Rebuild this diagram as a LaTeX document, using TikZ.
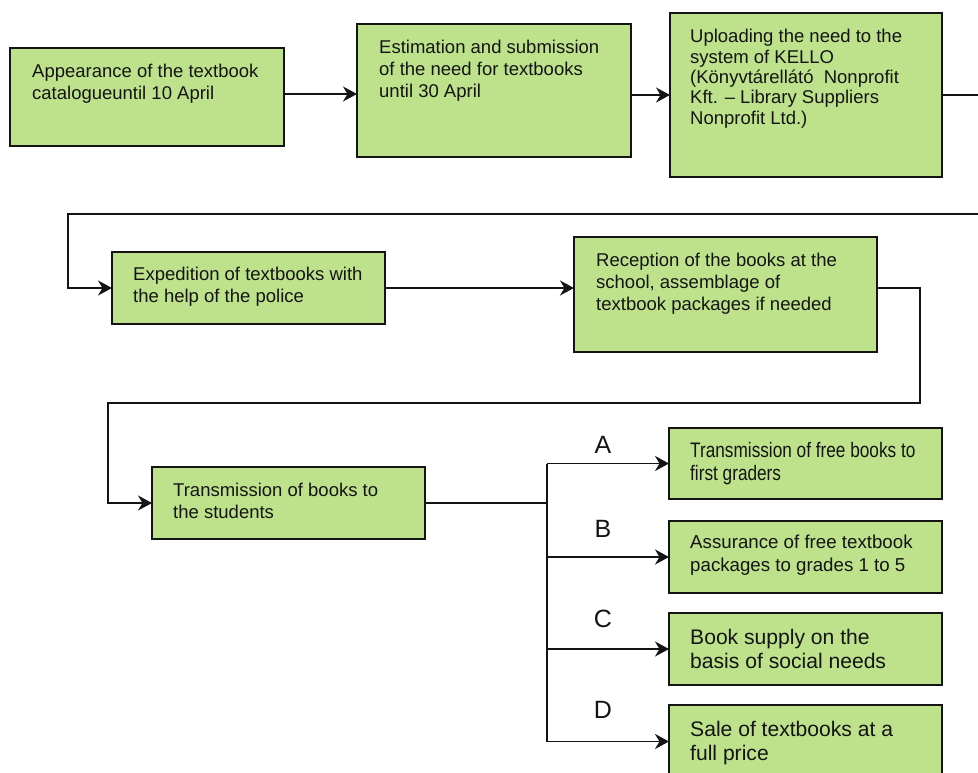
\documentclass[tikz,border=0pt]{standalone}
\usepackage{fontspec}
\setmainfont{Liberation Sans}
\newfontfamily\narrowfont[FakeStretch=0.82]{Liberation Sans}
\usetikzlibrary{arrows.meta,calc}

\definecolor{boxfill}{RGB}{190,226,140}
\definecolor{ink}{RGB}{20,20,20}

\newcommand\stagefont{\fontsize{18.5}{21.7}\selectfont}
\newcommand\tightfont{\fontsize{18.5}{20.4}\selectfont}
\newcommand\branchfont{\fontsize{18.7}{22.3}\selectfont}
\newcommand\largefont{\fontsize{21.1}{24}\selectfont}
\newcommand\condfont{\narrowfont\fontsize{21}{23.3}\selectfont}

\begin{document}
\begin{tikzpicture}[x=1pt,y=-1pt,
  stagebox/.style={draw=ink, line width=2pt, fill=boxfill, inner sep=0pt, outer sep=0pt, anchor=north west},
  caption/.style={anchor=north west, inner sep=0pt, align=left, text=ink},
  conn/.style={draw=ink, line width=1.8pt},
  flow/.style={conn, -{Stealth[length=14pt,width=15pt,inset=4.5pt]}},
  tag/.style={anchor=base, inner sep=0pt, text=ink, font=\fontsize{25}{30}\selectfont}
]
\useasboundingbox (0,0) rectangle (978,773);
\clip (0,0) rectangle (978,773);

% first row of stages
\node[stagebox, minimum width=274, minimum height=98]  (b1) at (10,48)  {};
\node[stagebox, minimum width=274, minimum height=133] (b2) at (357,24) {};
\node[stagebox, minimum width=272, minimum height=164] (b3) at (670,13) {};

% second row
\node[stagebox, minimum width=273, minimum height=72]  (b4) at (112,252) {};
\node[stagebox, minimum width=303, minimum height=115] (b5) at (574,237) {};

% third row and the four ways of supply
\node[stagebox, minimum width=273, minimum height=72]  (b6) at (152,467) {};
\node[stagebox, minimum width=273, minimum height=71]  (bA) at (669,428) {};
\node[stagebox, minimum width=273, minimum height=72]  (bB) at (669,521) {};
\node[stagebox, minimum width=273, minimum height=72]  (bC) at (669,613) {};
\node[stagebox, minimum width=273, minimum height=73]  (bD) at (669,705) {};

% box texts
\node[caption, font=\stagefont]  (t1) at ($(b1.north west)+(22,16)$) {Appearance of the textbook\\catalogueuntil 10 April};
\node[caption, font=\stagefont]  (t2) at ($(b2.north west)+(22,16)$) {Estimation and submission\\of the need for textbooks\\until 30 April};
\node[caption, font=\tightfont]  (t3) at ($(b3.north west)+(20,16)$) {Uploading the need to the\\system of KELLO\\(Könyvtárellátó\ \ Nonprofit\\Kft. – Library Suppliers\\Nonprofit Ltd.)};
\node[caption, font=\stagefont]  (t4) at ($(b4.north west)+(21,15)$) {Expedition of textbooks with\\the help of the police};
\node[caption, font=\stagefont]  (t5) at ($(b5.north west)+(22,16)$) {Reception of the books at the\\school, assemblage of\\textbook packages if needed};
\node[caption, font=\stagefont]  (t6) at ($(b6.north west)+(21,16)$) {Transmission of books to\\the students};
\node[caption, font=\condfont]   (tA) at ($(bA.north west)+(21,14)$) {Transmission of free books to\\first graders};
\node[caption, font=\branchfont] (tB) at ($(bB.north west)+(21,14)$) {Assurance of free textbook\\packages to grades 1 to 5};
\node[caption, font=\largefont]  (tC) at ($(bC.north west)+(21,16)$) {Book supply on the\\basis of social needs};
\node[caption, font=\largefont]  (tD) at ($(bD.north west)+(21,16)$) {Sale of textbooks at a\\full price};

% branch letters
\node[tag] (lA) at (603,453) {A};
\node[tag] (lB) at (603,537) {B};
\node[tag] (lC) at (603,627) {C};
\node[tag] (lD) at (603,718) {D};

% helper points for the routed connectors
\coordinate (r1) at (0,94);
\coordinate (r2) at (0,95);
\coordinate (wrap1) at (990,214);
\coordinate (lane1) at (68,214);
\coordinate (wrap2) at (920,403);
\coordinate (lane2) at (108,403);
\coordinate (j) at (547,503);

% connectors
\draw[flow] (b1.east |- r1) -- (b2.west |- r1);
\draw[flow] (b2.east |- r2) -- (b3.west |- r2);
\draw[flow] (b3.east |- r2) -| (wrap1) -- (lane1) |- (b4.west);
\draw[flow] (b4.east) -- (b5.west |- b4.east);
\draw[flow] (b5.east |- b4.east) -| (wrap2) -- (lane2) |- (b6.west);
\draw[conn] (b6.east) -- (j);
\draw[conn] (j |- bA.west) -- (j |- bD.west);
\foreach \n in {A,B,C,D}
  \draw[flow] (j |- b\n.west) -- (b\n.west);
\end{tikzpicture}
\end{document}
